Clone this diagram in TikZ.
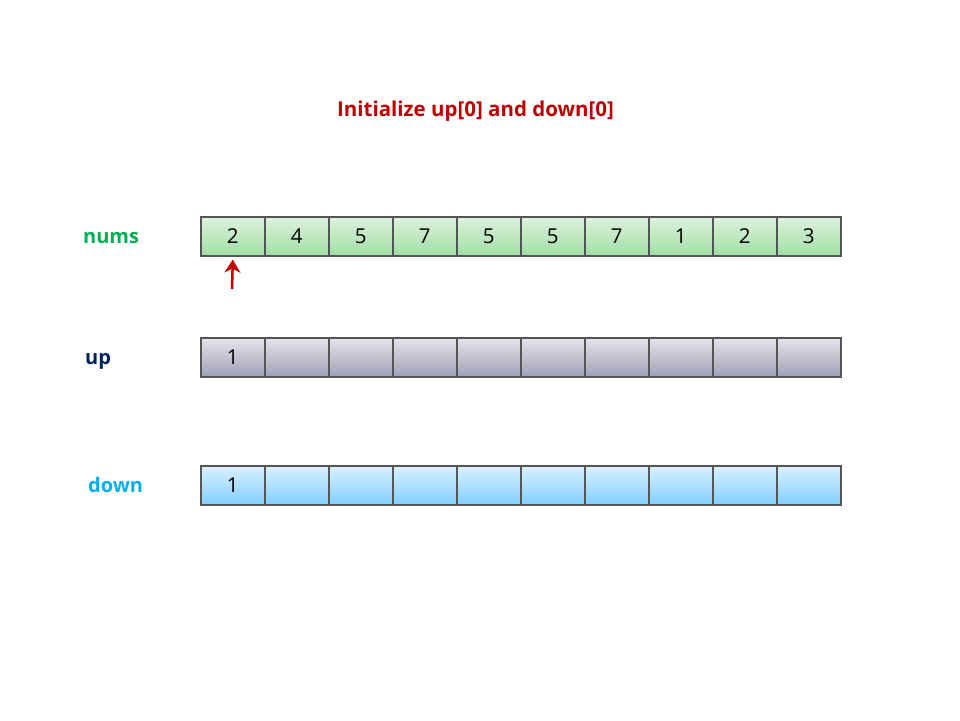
\documentclass[tikz,border=0pt]{standalone}
\usepackage{fontspec}
\setmainfont{Open Sans}
\usetikzlibrary{arrows.meta}
\definecolor{titlered}{RGB}{192,0,0}
\definecolor{numsgreen}{RGB}{0,176,80}
\definecolor{upnavy}{RGB}{0,32,96}
\definecolor{downblue}{RGB}{0,176,240}
\definecolor{cellborder}{RGB}{85,85,85}
\tikzset{
  cellbox/.style={draw=cellborder, line width=1.6pt, minimum width=64pt, minimum height=39pt,
    inner sep=0pt, anchor=north west, font=\fontsize{20.5}{20.5}\selectfont},
  numcell/.style={cellbox, top color={rgb,255:red,222;green,242;blue,222}, bottom color={rgb,255:red,160;green,222;blue,165}},
  upcell/.style={cellbox, top color={rgb,255:red,228;green,228;blue,234}, bottom color={rgb,255:red,160;green,160;blue,182}},
  downcell/.style={cellbox, top color={rgb,255:red,218;green,240;blue,255}, bottom color={rgb,255:red,130;green,208;blue,255}},
  rowlabel/.style={font=\fontsize{20}{20}\selectfont\bfseries, anchor=base west, inner sep=0pt},
  pointer/.style={draw=titlered, line width=2.5pt, -{Stealth[length=13pt,width=16pt,inset=4pt]}}
}
\begin{document}
\begin{tikzpicture}[x=1pt,y=-1pt]
\useasboundingbox (0,0) rectangle (960,720);
\node[font=\fontsize{20.5}{20.5}\selectfont\bfseries, text=titlered, anchor=base, inner sep=0pt] (title) at (475.5,116) {Initialize up[0] and down[0]};
\node[rowlabel, text=numsgreen] (lnums) at (83,243) {nums};
\node[rowlabel, text=upnavy] (lup) at (85,364) {up};
\node[rowlabel, text=downblue] (ldown) at (88,492) {down};
\foreach \v [count=\i from 0] in {2,4,5,7,5,5,7,1,2,3} {
  \node[numcell] (n\i) at (200+64*\i,216) {\v};
}
\foreach \i in {0,...,9} {
  \node[upcell] (u\i) at (200+64*\i,337) {\ifnum\i=0 1\fi};
  \node[downcell] (d\i) at (200+64*\i,465) {\ifnum\i=0 1\fi};
}
\coordinate (ptail) at (232,289);
\draw[pointer] (ptail) -- ([yshift=-3pt]n0.south);
\end{tikzpicture}
\end{document}
